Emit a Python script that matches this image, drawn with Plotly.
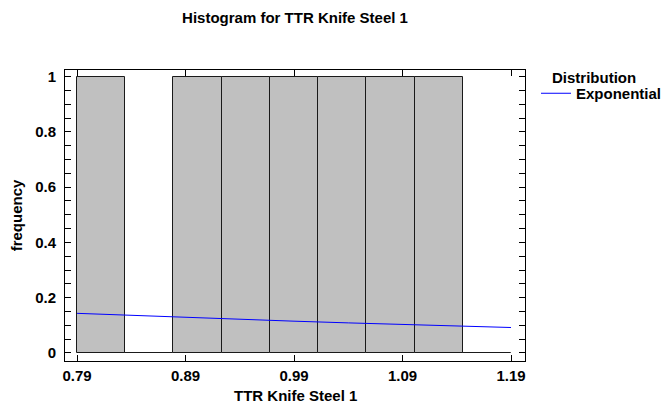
import plotly.graph_objects as go

# Histogram classes: 9 equal bins between the lower and upper limits
bin_lower = 0.79
bin_upper = 1.19
bin_counts = [1, 0, 1, 1, 1, 1, 1, 1, 0]

# Fitted exponential density, scaled to frequency
curve_x = [0.79, 0.84, 0.89, 0.94, 0.99, 1.04, 1.09, 1.14, 1.19]
curve_y = [0.1435, 0.1358, 0.1285, 0.1216, 0.1151, 0.1089, 0.1030, 0.0975, 0.0922]

x_ticks = [0.79, 0.89, 0.99, 1.09, 1.19]
x_tick_labels = ["0.79", "0.89", "0.99", "1.09", "1.19"]

n_bins = len(bin_counts)
bin_width = (bin_upper - bin_lower) / n_bins
bin_centers = [bin_lower + (i + 0.5) * bin_width for i in range(n_bins)]

FONT = "Liberation Sans, Arial, sans-serif"
FS = 15

# plot area in pixels
L, R, T, B = 65, 525, 70, 361
W, H = 665, 403
PW, PH = R - L, B - T

def px_x(p):
    return (p - L) / PW

def px_y(p):
    return (B - p) / PH

fig = go.Figure()
fig.add_trace(go.Bar(
    x=bin_centers, y=bin_counts, width=bin_width,
    marker=dict(color="#C0C0C0", line=dict(color="#1a1a1a", width=1)),
    showlegend=False, hoverinfo="x+y",
))
fig.add_trace(go.Scatter(
    x=curve_x, y=curve_y, mode="lines", name="<b>Exponential</b>",
    line=dict(color="#0000FF", width=1),
))

fig.update_layout(
    width=W, height=H,
    margin=dict(l=L, r=W - R, t=T, b=H - B, autoexpand=False),
    paper_bgcolor="white", plot_bgcolor="white",
    font=dict(family=FONT, size=FS, color="black"),
    title=dict(text="<b>Histogram for TTR Knife Steel 1</b>", x=0.5, xref="paper",
               y=1 - 18 / H, yanchor="middle", font=dict(size=FS)),
    bargap=0,
    showlegend=True,
    legend=dict(x=px_x(536), y=px_y(77), xanchor="left", yanchor="top",
                bgcolor="rgba(0,0,0,0)", font=dict(size=FS), itemwidth=30),
    annotations=[
        dict(text="<b>Distribution</b>", xref="paper", yref="paper",
             x=px_x(550), y=px_y(77), xanchor="left",
             yanchor="middle", showarrow=False, font=dict(size=FS)),
        dict(text="<b>TTR Knife Steel 1</b>", xref="paper", yref="paper",
             x=0.5, y=px_y(395), xanchor="center",
             yanchor="middle", showarrow=False, font=dict(size=FS)),
    ],
)
fig.update_xaxes(
    range=[0.7789, 1.2029], tickvals=x_ticks,
    ticktext=["<b>%s</b>" % t for t in x_tick_labels],
    tickfont=dict(family=FONT, size=FS),
    ticks="inside", ticklen=6, tickcolor="black", ticklabelstandoff=1,
    showline=True, linecolor="black", linewidth=1, mirror="allticks",
    showgrid=False, zeroline=False, automargin=False,
)
fig.update_yaxes(
    range=[-0.029, 1.024], dtick=0.2, tick0=0,
    tickprefix="<b>", ticksuffix="</b>",
    ticks="inside", ticklen=6, tickcolor="black", ticklabelstandoff=5,
    minor=dict(dtick=0.05, ticks="inside", ticklen=6, tickcolor="black", showgrid=False),
    showline=True, linecolor="black", linewidth=1, mirror="allticks",
    showgrid=False, zeroline=False, automargin=False,
    title=dict(text="<b>frequency</b>", standoff=8, font=dict(size=FS)),
)

fig.write_html("out.html")
